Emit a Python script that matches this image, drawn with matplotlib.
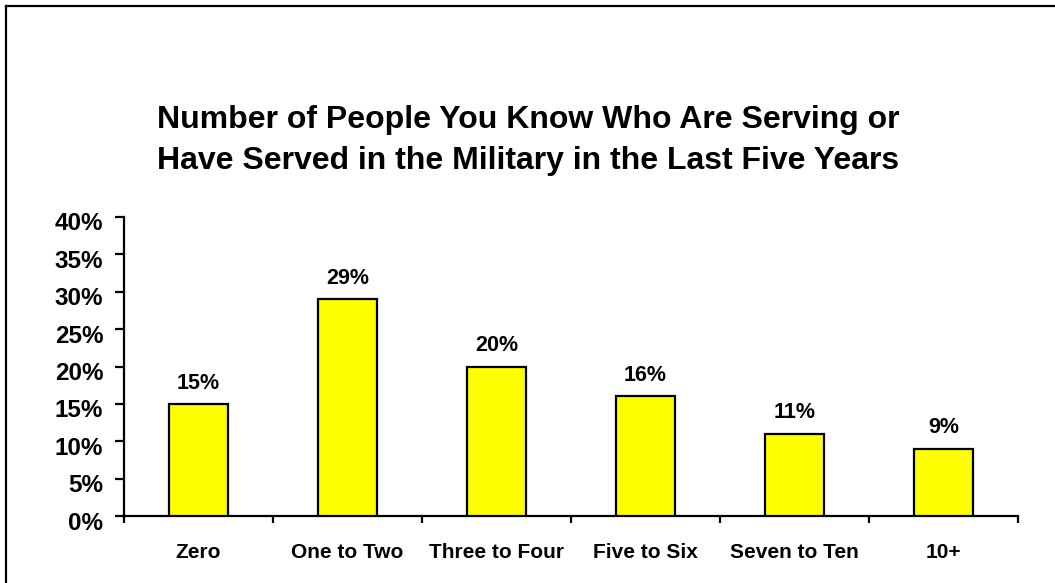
import matplotlib
matplotlib.use("Agg")
import matplotlib.pyplot as plt
from matplotlib.lines import Line2D
from matplotlib.ticker import MultipleLocator, FuncFormatter
import matplotlib.transforms as mtransforms
import numpy as np

categories = ["Zero", "One to Two", "Three to Four", "Five to Six", "Seven to Ten", "10+"]
values = [15, 29, 20, 16, 11, 9]
title_lines = ["Number of People You Know Who Are Serving or",
               "Have Served in the Military in the Last Five Years"]

plt.rcParams["font.family"] = ["Liberation Sans", "DejaVu Sans"]
plt.rcParams["font.weight"] = "bold"

W, H = 1055, 583
fig = plt.figure(figsize=(W / 100, H / 100), dpi=100)
fig.patch.set_facecolor("white")

# outer frame (top and left edges)
fig.add_artist(Line2D([6 / W, 6 / W], [0, 1 - 6 / H], transform=fig.transFigure,
                      color="black", lw=1.6, solid_capstyle="projecting"))
fig.add_artist(Line2D([6 / W, 1], [1 - 6 / H, 1 - 6 / H], transform=fig.transFigure,
                      color="black", lw=1.6, solid_capstyle="projecting"))

x0, x1, ytop, ybot = 124, 1018, 217, 516
ax = fig.add_axes([x0 / W, (H - ybot) / H, (x1 - x0) / W, (ybot - ytop) / H])

x = np.arange(len(categories))
ax.bar(x, values, width=0.40, color="#FFFF00", edgecolor="black", linewidth=1.6, zorder=3)
for xi, v in zip(x, values):
    ax.annotate(f"{v}%", (xi, v), xytext=(0, 11), textcoords="offset points",
                ha="center", va="baseline", fontsize=15.5, fontweight="bold")

ax.set_xlim(-0.5, len(categories) - 0.5)
ax.set_ylim(0, 40)
ax.yaxis.set_major_locator(MultipleLocator(5))
ax.yaxis.set_major_formatter(FuncFormatter(lambda v, p: f"{v:.0f}%"))

# category labels placed by baseline below the axis
ax.set_xticks(np.arange(-0.5, len(categories)))
ax.set_xticklabels([])
ax.tick_params(axis="x", which="major", length=5, width=1.6, direction="out")
label_y = (ybot - 558) / (ybot - ytop)
xform = mtransforms.blended_transform_factory(ax.transData, ax.transAxes)
for xi, c in zip(x, categories):
    ax.text(xi, label_y, c, transform=xform, ha="center", va="baseline",
            fontsize=15, fontweight="bold", clip_on=False)

ax.tick_params(axis="y", which="major", length=6.5, width=1.6, direction="out",
               labelsize=17.5, pad=8.5)
shift = mtransforms.ScaledTranslation(0, -0.045, fig.dpi_scale_trans)
for lab in ax.get_yticklabels():
    lab.set_fontweight("bold")
    lab.set_transform(lab.get_transform() + shift)

for s in ["top", "right"]:
    ax.spines[s].set_visible(False)
for s in ["left", "bottom"]:
    ax.spines[s].set_linewidth(1.6)

for line, base in zip(title_lines, [128, 169]):
    fig.text(528 / W, 1 - base / H, line, ha="center", va="baseline",
             fontsize=23, fontweight="bold")

fig.savefig("out.png", dpi=100, facecolor="white")
